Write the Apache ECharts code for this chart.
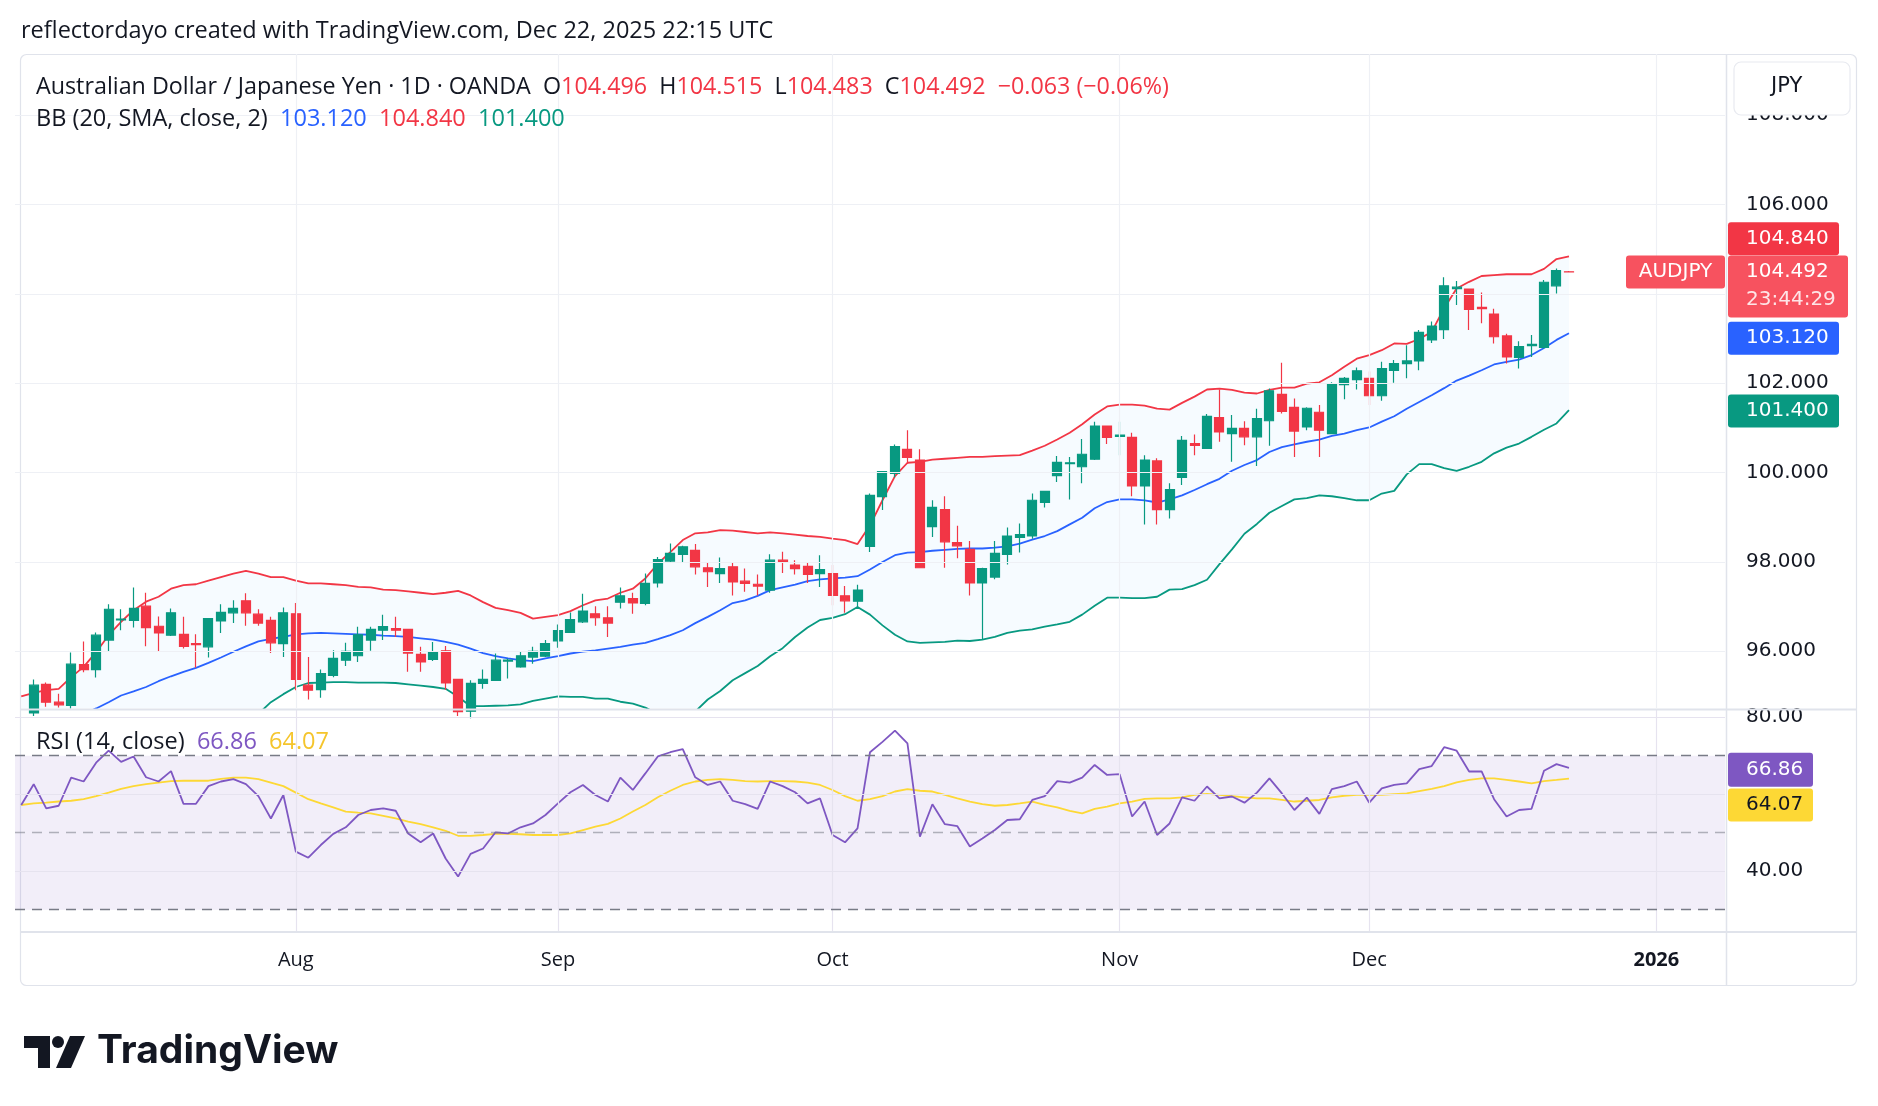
<!DOCTYPE html>
<html><head><meta charset="utf-8">
<script src="https://cdn.jsdelivr.net/npm/echarts@6/dist/echarts.min.js"></script>
<style>html,body{margin:0;padding:0;background:#fff}#c{width:1878px;height:1106px}</style>
</head><body><div id="c"></div><script>
// ---------- DATA ----------
const openP = [null,
94.62,95.26,94.86,94.79,95.70,95.59,96.25,96.70,96.69,97.01,96.56,96.36,96.38,96.17,96.10,96.68,96.86,97.13,96.83,96.69,
96.17,96.84,95.24,95.14,95.46,95.80,95.90,96.25,96.47,96.51,96.49,95.93,95.82,96.01,95.37,94.66,95.28,95.35,95.78,95.65,
95.87,95.89,96.23,96.42,96.66,96.84,96.75,97.10,97.18,97.07,97.53,98.02,98.17,98.26,97.87,97.74,97.89,97.57,97.50,97.37,
98.04,97.93,97.90,97.74,97.74,97.24,97.12,98.35,99.46,99.98,100.52,100.28,98.79,99.17,98.43,98.28,97.53,97.66,98.17,98.55,
98.58,99.33,99.93,100.20,100.13,100.30,101.04,100.81,100.79,99.70,100.26,99.17,99.89,100.65,100.54,101.23,100.87,100.99,100.80,101.16,
101.75,101.46,101.02,101.35,100.87,101.97,102.08,102.11,101.72,102.29,102.44,102.50,102.97,103.20,104.12,104.11,103.70,103.55,103.06,102.58,
102.84,102.80,104.18,104.496];
const highP = [null,
95.37,95.30,95.05,95.97,96.22,96.42,97.05,96.94,97.43,97.31,96.78,96.96,96.77,96.38,96.74,97.05,97.14,97.30,96.94,96.77,
96.98,97.08,95.87,95.59,96.02,96.19,96.55,96.55,96.82,96.77,96.50,96.10,96.21,96.12,95.37,95.35,95.59,95.95,95.84,95.99,
96.10,96.25,96.60,96.87,97.29,97.01,97.01,97.43,97.31,97.74,98.11,98.41,98.36,98.40,97.98,98.10,97.98,97.85,97.72,98.17,
98.23,98.04,97.98,98.15,97.93,97.46,97.49,99.53,100.03,100.63,100.95,100.52,99.38,99.47,98.81,98.47,97.87,98.47,98.77,98.86,
99.53,99.58,100.37,100.35,100.75,101.14,101.04,101.14,100.89,100.39,100.32,99.76,100.82,100.85,101.31,101.86,101.29,101.15,101.43,101.88,
102.46,101.66,101.46,101.51,102.02,102.14,102.35,102.26,102.48,102.52,102.85,103.19,103.38,104.37,104.29,104.11,104.03,103.67,103.11,102.94,
103.08,104.31,104.57,104.515];
const lowP = [null,
94.55,94.76,94.74,94.72,95.53,95.41,95.99,96.47,96.53,96.11,96.00,96.34,96.06,95.63,95.86,96.41,96.63,96.57,96.57,95.96,
95.87,95.13,94.92,94.96,95.42,95.67,95.76,96.01,96.25,96.32,95.54,95.54,95.78,95.14,94.55,94.50,95.16,95.35,95.39,95.63,
95.72,95.87,96.08,96.42,96.63,96.57,96.32,96.96,96.84,97.03,97.43,98.00,98.00,97.72,97.44,97.53,97.25,97.33,97.25,97.31,
97.75,97.72,97.53,97.44,97.03,96.86,96.98,98.22,99.16,99.89,100.20,97.87,98.56,97.87,98.08,97.25,96.26,97.61,97.94,98.21,
98.52,99.22,99.79,99.40,99.76,100.28,100.64,100.39,99.47,98.84,98.84,98.97,99.72,100.39,100.54,100.69,100.24,100.61,100.15,100.60,
101.32,100.35,100.95,100.35,100.87,101.64,101.86,101.51,101.61,102.01,102.11,102.29,102.90,102.99,103.75,103.19,103.34,102.89,102.44,102.33,
102.59,102.78,104.01,104.483];
const closeP = [null,
95.24,94.86,94.80,95.71,95.59,96.36,96.94,96.72,96.96,96.53,96.41,96.86,96.11,96.15,96.73,96.87,96.96,96.86,96.63,96.19,
96.86,95.37,95.13,95.50,95.84,96.00,96.37,96.49,96.55,96.47,95.96,95.76,95.97,95.29,94.65,95.28,95.37,95.80,95.80,95.90,
96.00,96.17,96.46,96.71,96.90,96.75,96.63,97.24,97.08,97.52,98.05,98.19,98.34,97.89,97.78,97.85,97.55,97.52,97.46,98.04,
98.00,97.85,97.72,97.83,97.25,97.13,97.37,99.49,100.02,100.58,100.34,97.87,99.22,98.45,98.36,97.53,97.85,98.19,98.58,98.61,
99.38,99.58,100.23,100.22,100.41,101.04,100.79,100.84,99.70,100.28,99.17,99.62,100.72,100.61,101.26,100.91,100.99,100.80,101.21,101.83,
101.37,100.93,101.44,100.95,101.99,102.11,102.28,101.72,102.33,102.44,102.50,103.14,103.28,104.18,104.15,103.65,103.67,103.04,102.59,102.82,
102.87,104.26,104.52,104.492];
const bbUpper = [94.99,95.07,95.13,95.16,95.42,95.65,95.98,96.36,96.66,96.92,97.11,97.22,97.40,97.48,97.50,97.58,97.66,97.74,97.80,97.74,
97.66,97.66,97.58,97.52,97.52,97.50,97.48,97.44,97.43,97.38,97.37,97.34,97.31,97.28,97.31,97.35,97.25,97.10,96.97,96.92,
96.86,96.73,96.77,96.81,96.90,97.03,97.14,97.18,97.31,97.40,97.63,97.96,98.22,98.49,98.64,98.66,98.71,98.70,98.67,98.64,
98.66,98.64,98.61,98.58,98.56,98.52,98.49,98.40,98.82,99.38,99.92,100.22,100.24,100.29,100.31,100.33,100.35,100.35,100.37,100.38,
100.39,100.49,100.60,100.74,100.89,101.08,101.30,101.48,101.52,101.52,101.50,101.43,101.41,101.56,101.70,101.86,101.88,101.85,101.79,101.77,
101.85,101.90,101.90,101.99,102.02,102.18,102.37,102.55,102.63,102.74,102.89,102.88,102.99,103.15,103.68,104.12,104.27,104.40,104.42,104.44,
104.44,104.44,104.56,104.78,104.84];
const bbBasis = [94.10,94.20,94.30,94.40,94.50,94.60,94.72,94.86,95.01,95.10,95.20,95.33,95.44,95.54,95.63,95.74,95.86,95.99,96.11,96.22,
96.28,96.32,96.38,96.40,96.41,96.40,96.39,96.38,96.37,96.35,96.34,96.32,96.29,96.26,96.21,96.15,96.06,95.96,95.89,95.84,
95.80,95.78,95.84,95.89,95.95,95.99,96.02,96.06,96.10,96.15,96.19,96.27,96.36,96.47,96.63,96.77,96.92,97.08,97.14,97.24,
97.37,97.43,97.49,97.57,97.61,97.63,97.65,97.68,97.83,98.00,98.15,98.21,98.22,98.25,98.27,98.29,98.30,98.30,98.32,98.35,
98.41,98.50,98.58,98.69,98.84,98.99,99.20,99.34,99.40,99.40,99.38,99.33,99.40,99.49,99.61,99.74,99.86,100.04,100.17,100.28,
100.46,100.57,100.63,100.69,100.74,100.82,100.87,100.95,101.01,101.14,101.26,101.43,101.58,101.73,101.89,102.06,102.17,102.29,102.42,102.48,
102.53,102.63,102.79,102.97,103.12];
const bbLower = [93.30,93.30,93.30,93.20,93.10,93.00,92.90,92.90,93.00,93.10,93.30,93.40,93.50,93.60,93.80,93.90,94.10,94.20,94.40,94.60,
94.86,95.04,95.20,95.29,95.30,95.31,95.31,95.30,95.30,95.30,95.29,95.26,95.23,95.20,95.16,94.98,94.77,94.77,94.78,94.79,
94.81,94.89,94.94,94.99,94.98,94.98,94.94,94.94,94.87,94.83,94.74,94.60,94.50,94.50,94.65,94.92,95.11,95.35,95.51,95.67,
95.89,96.07,96.32,96.53,96.70,96.75,96.83,96.99,96.82,96.58,96.37,96.22,96.19,96.20,96.21,96.24,96.23,96.26,96.32,96.41,
96.46,96.49,96.55,96.60,96.66,96.82,97.02,97.20,97.20,97.19,97.19,97.22,97.38,97.39,97.48,97.60,97.95,98.28,98.63,98.85,
99.10,99.25,99.40,99.43,99.49,99.47,99.43,99.38,99.38,99.53,99.59,99.96,100.19,100.19,100.10,100.04,100.13,100.24,100.43,100.56,
100.65,100.80,100.96,101.10,101.40];
const rsi = [57.2,62.6,56.3,57.0,64.3,63.3,68.2,71.3,68.4,69.8,64.4,63.3,66.0,57.5,57.5,62.1,63.3,63.9,62.6,59.5,
53.7,59.8,45.1,43.5,46.8,49.7,51.4,54.6,55.9,56.3,55.7,49.8,47.5,49.8,43.3,38.6,44.5,45.9,50.1,49.8,
51.4,52.4,54.6,57.6,60.5,62.4,59.8,58.1,64.3,61.1,65.4,69.8,70.9,71.7,64.4,62.4,63.3,58.3,57.4,56.2,
63.3,62.1,60.5,57.6,58.9,49.4,47.5,51.1,70.9,73.6,76.5,73.2,49.0,57.4,52.2,51.7,46.4,48.5,50.7,53.3,
53.5,58.5,59.5,63.4,63.0,64.3,67.6,65.0,65.2,54.2,58.1,49.4,52.4,59.2,58.3,62.0,58.9,59.4,57.8,60.4,
64.1,60.2,55.9,59.1,54.9,61.3,62.1,63.3,57.8,61.5,62.4,62.8,66.5,67.3,72.2,71.3,65.9,65.9,58.7,54.2,
55.9,56.2,66.1,67.8,66.86];
const rsiMA = [57.2,57.6,57.8,58.1,58.3,58.7,59.5,60.4,61.4,62.1,62.6,63.0,63.4,63.5,63.5,63.5,64.0,64.3,64.3,63.9,
63.0,62.1,60.4,58.7,57.6,56.6,55.5,55.2,55.0,54.4,53.7,52.9,52.2,51.4,50.5,49.2,49.2,49.4,49.7,49.7,
49.6,49.4,49.4,49.4,49.8,50.7,51.6,52.3,53.7,55.5,57.2,59.2,60.9,62.4,63.3,63.7,63.9,63.7,63.4,63.3,
63.4,63.4,63.3,63.0,62.4,61.1,59.5,58.3,58.7,59.5,60.7,61.3,60.9,60.7,59.8,58.9,58.1,57.4,57.0,57.2,
57.6,58.1,57.2,56.6,55.7,55.0,56.2,56.8,57.6,58.1,58.8,58.9,58.9,59.2,59.8,60.1,59.8,59.5,59.2,58.9,
58.9,58.5,58.1,58.3,58.5,59.2,59.6,59.8,59.8,59.8,60.0,60.2,60.8,61.4,62.1,63.1,63.7,64.1,64.1,63.7,
63.3,62.8,63.4,63.7,64.07];
const priceTicks = [96,98,100,102,104,106,108];
const rsiTicks = [40,80];
const rsiGrid = [40,60,80];
const rsiLevels = [70,50,30];
const monthNames = ['Jan','Feb','Mar','Apr','May','Jun','Jul','Aug','Sep','Oct','Nov','Dec'];
const lastVals = {upper:104.840, last:104.492, basis:103.120, lower:101.400, rsi:66.86, rsiMA:64.07};

// trading-day categories (weekdays), Jul 2 2025 .. Jan 8 2026
const dates = [];
(function(){
  let t = Date.UTC(2025,6,2); const end = Date.UTC(2026,0,8);
  while (t <= end) { const d = new Date(t); const w = d.getUTCDay();
    if (w !== 0 && w !== 6) dates.push(d.toISOString().slice(0,10)); t += 86400000; }
})();
const monthStarts = dates.filter((s,i)=> i>0 && s.slice(5,7)!==dates[i-1].slice(5,7));

const candles = closeP.map((c,i)=> c==null ? '-' : [openP[i], c, lowP[i], highP[i]]);
const bandDiff = bbUpper.map((u,i)=> +(u - bbLower[i]).toFixed(3));

const TXT = '"Open Sans", "Noto Sans", sans-serif';
const NUM = '"DejaVu Sans", sans-serif';
const C_UP = '#089981', C_DN = '#f23645';
const HF = '23.5px ' + TXT;
const HF2 = '23.3px ' + TXT;

const chart = echarts.init(document.getElementById('c'), null, {renderer:'canvas'});
const xBase = {type:'category', data:dates, boundaryGap:true, axisLine:{show:false}, axisTick:{show:false}, splitLine:{show:false}};
const markBase = {silent:true, symbol:['none','none'], label:{show:false}, animation:false};
const GR = 153;   // right gap of both panes (price scale column)

const option = {
  animation:false,
  backgroundColor:'#ffffff',
  grid:[{left:15, right:GR, top:54, height:654}, {left:15, right:GR, top:710, height:221}],
  xAxis:[
    Object.assign({}, xBase, {gridIndex:0, axisLabel:{show:false}}),
    Object.assign({}, xBase, {gridIndex:1, axisLabel:{show:true, margin:19, color:'#131722', fontSize:20, fontFamily:TXT,
      interval:(i,v)=> monthStarts.indexOf(v) >= 0,
      formatter:(v)=>{ const m = +v.slice(5,7); return m===1 ? '{b|'+v.slice(0,4)+'}' : monthNames[m-1]; },
      rich:{b:{fontWeight:'bold', fontSize:20, fontFamily:TXT, color:'#131722'}}}})
  ],
  yAxis:[
    {type:'value', gridIndex:0, position:'right', min:94.73, max:109.37,
     axisLine:{show:false}, axisTick:{show:false}, splitLine:{show:false},
     axisLabel:{customValues:priceTicks, margin:21, color:'#131722', fontSize:20, fontFamily:NUM, padding:[5,0,0,0],
       formatter:(v)=> Number(v).toFixed(3)}},
    {type:'value', gridIndex:1, position:'right', min:24.47, max:81.87,
     axisLine:{show:false}, axisTick:{show:false}, splitLine:{show:false},
     axisLabel:{customValues:rsiTicks, margin:21, color:'#131722', fontSize:20, fontFamily:NUM, padding:[5,0,0,0],
       formatter:(v)=> Number(v).toFixed(2)}}
  ],
  series:[
    {type:'line', name:'grid0', xAxisIndex:0, yAxisIndex:0, data:dates.map(()=> '-'), z:1, silent:true,
     markLine:Object.assign({}, markBase, {lineStyle:{color:'#eef0f5', width:1.2, type:'solid'},
       data: monthStarts.map(m=>({xAxis:m})).concat(priceTicks.map(v=>({yAxis:v})))})},
    {type:'line', name:'grid1', xAxisIndex:1, yAxisIndex:1, data:dates.map(()=> '-'), z:1, silent:true,
     markLine:Object.assign({}, markBase, {lineStyle:{color:'#e6e3ef', width:1.2, type:'solid'},
       data: monthStarts.map(m=>({xAxis:m})).concat(rsiGrid.map(v=>({yAxis:v})))}),
     markArea:{silent:true, itemStyle:{color:'rgba(126,87,194,0.10)'}, data:[[{yAxis:30},{yAxis:70}]]}},
    {type:'line', name:'bbLowerBase', xAxisIndex:0, yAxisIndex:0, data:bbLower, stack:'bb', symbol:'none',
     lineStyle:{width:0, opacity:0}, z:2, silent:true},
    {type:'line', name:'bbFill', xAxisIndex:0, yAxisIndex:0, data:bandDiff, stack:'bb', symbol:'none',
     lineStyle:{width:0, opacity:0}, areaStyle:{color:'rgba(33,150,243,0.055)'}, z:2, silent:true},
    {type:'line', name:'Lower', xAxisIndex:0, yAxisIndex:0, data:bbLower, symbol:'none', lineStyle:{color:'#089981', width:1.8}, z:3},
    {type:'line', name:'Upper', xAxisIndex:0, yAxisIndex:0, data:bbUpper, symbol:'none', lineStyle:{color:'#f23645', width:1.8}, z:3},
    {type:'line', name:'Basis', xAxisIndex:0, yAxisIndex:0, data:bbBasis, symbol:'none', lineStyle:{color:'#2962ff', width:1.8}, z:3},
    {type:'candlestick', name:'AUDJPY', xAxisIndex:0, yAxisIndex:0, data:candles, barWidth:9.5, z:4,
     itemStyle:{color:C_UP, color0:C_DN, borderColor:C_UP, borderColor0:C_DN, borderWidth:1.2}},
    {type:'line', name:'RSI', xAxisIndex:1, yAxisIndex:1, data:rsi, symbol:'none', lineStyle:{color:'#7e57c2', width:1.8}, z:4,
     markLine:Object.assign({}, markBase, {
       data: rsiLevels.map(l=>({yAxis:l, lineStyle:{color: l===50 ? 'rgba(120,123,134,0.55)' : '#787b86', width:1.4, type:[10,7]}}))})},
    {type:'line', name:'RSI MA', xAxisIndex:1, yAxisIndex:1, data:rsiMA, symbol:'none', lineStyle:{color:'#fdd835', width:1.8}, z:3}
  ]
};
chart.setOption(option);

const py = v => chart.convertToPixel({yAxisIndex:0}, v);
const ry = v => chart.convertToPixel({yAxisIndex:1}, v);
const BX = 1728;  // left edge of price-scale badges
function badge(x, yc, w, h, fill, text, color){
  return [{type:'rect', z:100, shape:{x:x, y:yc-h/2, width:w, height:h, r:3}, style:{fill:fill}},
          {type:'text', z:101, x:1746, y:yc, style:{text:text, fill:color||'#fff', font:'20px '+NUM, verticalAlign:'middle', align:'left'}}];
}
const yLast = py(lastVals.last);
let g = [
  {type:'text', x:21, y:31, style:{text:'reflectordayo created with TradingView.com, Dec 22, 2025 22:15 UTC', fill:'#131722', font:HF, verticalAlign:'middle'}},
  {type:'rect', z:0, shape:{x:20.5, y:54.5, width:1836, height:931, r:6}, style:{fill:'none', stroke:'#e0e3eb', lineWidth:1.2}},
  {type:'line', z:50, shape:{x1:1726.5, y1:54, x2:1726.5, y2:985}, style:{stroke:'#e0e3eb', lineWidth:1.5}},
  {type:'line', z:50, shape:{x1:20, y1:709.5, x2:1856, y2:709.5}, style:{stroke:'#e0e3eb', lineWidth:2}},
  {type:'line', z:50, shape:{x1:20, y1:932, x2:1856, y2:932}, style:{stroke:'#e0e3eb', lineWidth:2}},
  {type:'text', z:60, x:36, y:87, style:{
    text:'{k|Australian Dollar / Japanese Yen · 1D · OANDA}  {k|O}{r|104.496}  {k|H}{r|104.515}  {k|L}{r|104.483}  {k|C}{r|104.492}  {r|−0.063 (−0.06%)}',
    font:HF2, verticalAlign:'middle',
    rich:{k:{fill:'#131722', font:HF2}, r:{fill:'#f23645', font:HF2}}}},
  {type:'text', z:60, x:36, y:119, style:{
    text:'{k|BB (20, SMA, close, 2)}  {b|103.120}  {r|104.840}  {g|101.400}', font:HF, verticalAlign:'middle',
    rich:{k:{fill:'#131722', font:HF}, b:{fill:'#2962ff', font:HF}, r:{fill:'#f23645', font:HF}, g:{fill:'#089981', font:HF}}}},
  {type:'text', z:60, x:36, y:742, style:{
    text:'{k|RSI (14, close)}  {p|66.86}  {y|64.07}', font:HF, verticalAlign:'middle',
    rich:{k:{fill:'#131722', font:HF}, p:{fill:'#7e57c2', font:HF}, y:{fill:'#f5c52c', font:HF}}}},
  {type:'rect', z:120, shape:{x:1734, y:62, width:116, height:53, r:7}, style:{fill:'#fff', stroke:'#e8eaf0', lineWidth:1.2}},
  {type:'text', z:121, x:1771, y:87, style:{text:'JPY', fill:'#131722', font:'21px '+NUM, verticalAlign:'middle'}},
  // AUDJPY label and last price box
  {type:'rect', z:100, shape:{x:1626, y:yLast-16.5, width:99, height:33, r:3}, style:{fill:'#f7525f'}},
  {type:'text', z:101, x:1675.5, y:yLast, style:{text:'AUDJPY', fill:'#fff', font:'20px '+NUM, align:'center', verticalAlign:'middle'}},
  {type:'rect', z:100, shape:{x:BX, y:yLast-16.5, width:120, height:62, r:3}, style:{fill:'#f7525f'}},
  {type:'text', z:101, x:1746, y:yLast, style:{text:'104.492', fill:'#fff', font:'20px '+NUM, verticalAlign:'middle'}},
  {type:'text', z:101, x:1746, y:yLast+28, style:{text:'23:44:29', fill:'rgba(255,255,255,0.85)', font:'20px '+NUM, verticalAlign:'middle'}},
  // logo
  {type:'polygon', z:10, shape:{points:[[24,1036],[50,1036],[50,1068],[38,1068],[38,1048],[24,1048]]}, style:{fill:'#131722'}},
  {type:'circle', z:10, shape:{cx:58, cy:1042, r:6}, style:{fill:'#131722'}},
  {type:'polygon', z:10, shape:{points:[[70,1036],[85,1036],[71,1068],[56,1068]]}, style:{fill:'#131722'}},
  {type:'text', z:10, x:97, y:1051, style:{text:'TradingView', fill:'#131722', font:'bold 39px Inter, "Noto Sans", sans-serif', verticalAlign:'middle'}}
];
g = g.concat(badge(BX, py(lastVals.upper)-17.5, 111, 33, '#f23645', '104.840'));
g = g.concat(badge(BX, py(lastVals.basis)+5, 111, 33, '#2962ff', '103.120'));
g = g.concat(badge(BX, py(lastVals.lower)+1, 111, 33, '#089981', '101.400'));
g = g.concat(badge(BX, ry(lastVals.rsi)+2, 85, 34, '#7e57c2', '66.86'));
g = g.concat(badge(BX, ry(lastVals.rsiMA)+26.5, 85, 33, '#fdd835', '64.07', '#131722'));
chart.setOption({graphic:g});
</script></body></html>
